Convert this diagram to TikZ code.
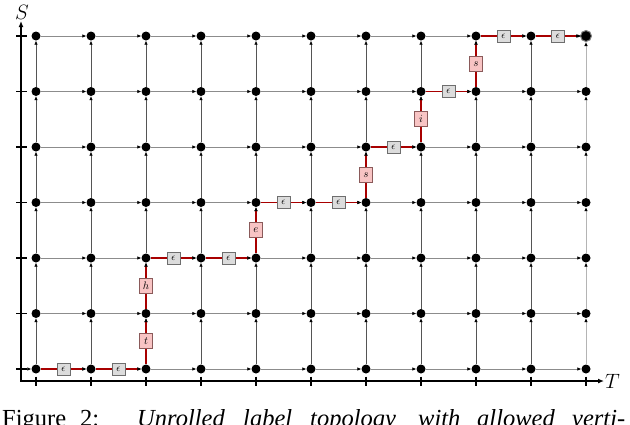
\documentclass[tikz,border=0pt]{standalone}
\usepackage{fontspec}
\setmainfont{Liberation Serif}
\usetikzlibrary{arrows.meta}
\definecolor{hgray}{HTML}{8C8C8C}
\definecolor{vgray}{HTML}{555555}
\definecolor{lgray}{HTML}{B4B4B4}
\definecolor{pathred}{HTML}{A80000}
\definecolor{epsfill}{HTML}{DCDCDC}
\definecolor{epsborder}{HTML}{6E6E6E}
\definecolor{pinkfill}{HTML}{F8C4C4}
\definecolor{pinkborder}{HTML}{8A5A5A}
\begin{document}
\begin{tikzpicture}[x=1pt,y=-1pt,
  dot/.style={circle,fill=black,inner sep=0pt,minimum size=9pt},
  finaldot/.style={circle,fill=black,draw=gray,line width=1pt,inner sep=0pt,minimum size=11pt},
  hedge/.style={draw=hgray,line width=0.8pt,-{Latex[length=4pt,width=3.6pt,color=black]}},
  vedge/.style={draw=vgray,line width=0.7pt,-{Latex[length=4pt,width=3.6pt,color=black]}},
  ledge/.style={draw=lgray,line width=1pt,-{Latex[length=4pt,width=3.6pt,color=black]}},
  redge/.style={draw=pathred,line width=1.6pt,-{Latex[length=4pt,width=3.6pt,color=black]}},
  epsbox/.style={draw=epsborder,fill=epsfill,line width=0.6pt,minimum width=13pt,minimum height=12pt,inner sep=1pt,font=\fontsize{10}{10}\selectfont},
  letbox/.style={draw=pinkborder,fill=pinkfill,line width=0.6pt,minimum width=13pt,minimum height=15pt,inner sep=1pt,font=\fontsize{11}{11}\selectfont},
  axisline/.style={line width=1.3pt,{Latex[length=6pt,width=5pt]}-{Latex[length=6pt,width=5pt]}},
  tickline/.style={line width=1.2pt},
  captext/.style={anchor=base west,inner sep=0pt,font=\fontsize{24.5}{24.5}\selectfont}
]
\useasboundingbox (0,0) rectangle (630,424);
\clip (0,0) rectangle (630,424);
% axes
\coordinate (orig) at (21,381);
\coordinate (ytop) at (21,21);
\coordinate (xend) at (604,381);
\draw[axisline] (ytop) -- (orig) -- (xend);
\foreach \r in {0,...,6} \draw[tickline] (16,{369-55.5*\r}) -- (27,{369-55.5*\r});
\foreach \c in {0,...,10} \draw[tickline] ({36+55*\c},376.5) -- ({36+55*\c},386);
\node[font=\fontsize{20}{20}\selectfont] (S) at (22,12) {$S$};
\node[font=\fontsize{20}{20}\selectfont,anchor=west,inner sep=1pt] (T) at (604,381) {$T$};
% nodes
\foreach \c in {0,...,10} {\foreach \r in {0,...,6} {
  \node[dot] (n-\c-\r) at ({36+55*\c},{369-55.5*\r}) {};}}
\node[finaldot] (fin) at (n-10-6) {};
% gray edges
\foreach \r in {0,...,6} {\foreach \c in {0,...,9} {
  \pgfmathtruncatemacro{\nc}{\c+1}
  \draw[hedge] (n-\c-\r) -- (n-\nc-\r);}}
\foreach \c in {0,...,9} {\foreach \r in {0,...,5} {
  \pgfmathtruncatemacro{\nr}{\r+1}
  \draw[vedge] (n-\c-\r) -- (n-\c-\nr);}}
\foreach \r in {0,...,4} {
  \pgfmathtruncatemacro{\nr}{\r+1}
  \draw[ledge] (n-10-\r) -- (n-10-\nr);}
\draw[ledge] (n-10-5) -- (fin);
\coordinate (start) at (27,369);
\draw[hedge] (start) -- (n-0-0);
% red path
\foreach \a/\b/\k/\t [count=\i] in {0-0/1-0/epsbox/\epsilon, 1-0/2-0/epsbox/\epsilon, 2-0/2-1/letbox/t, 2-1/2-2/letbox/h, 2-2/3-2/epsbox/\epsilon, 3-2/4-2/epsbox/\epsilon, 4-2/4-3/letbox/e, 4-3/5-3/epsbox/\epsilon, 5-3/6-3/epsbox/\epsilon, 6-3/6-4/letbox/s, 6-4/7-4/epsbox/\epsilon, 7-4/7-5/letbox/i, 7-5/8-5/epsbox/\epsilon, 8-5/8-6/letbox/s, 8-6/9-6/epsbox/\epsilon}
  \draw[redge] (n-\a) -- node[\k] (lab\i) {$\t$} (n-\b);
\draw[redge] (n-9-6) -- node[epsbox] (lab16) {$\epsilon$} (fin);
% caption
\node[captext] (c1) at (2,426) {Figure};
\node[captext] (c2) at (80,426) {2:};
\node[captext] (c3) at (137,426) {\itshape Unrolled};
\node[captext] (c4) at (243,426) {\itshape label};
\node[captext] (c5) at (310,426) {\itshape topology};
\node[captext] (c6) at (418,426) {\itshape with};
\node[captext] (c7) at (477,426) {\itshape allowed};
\node[captext] (c8) at (572,426) {\itshape verti-};
\end{tikzpicture}
\end{document}
